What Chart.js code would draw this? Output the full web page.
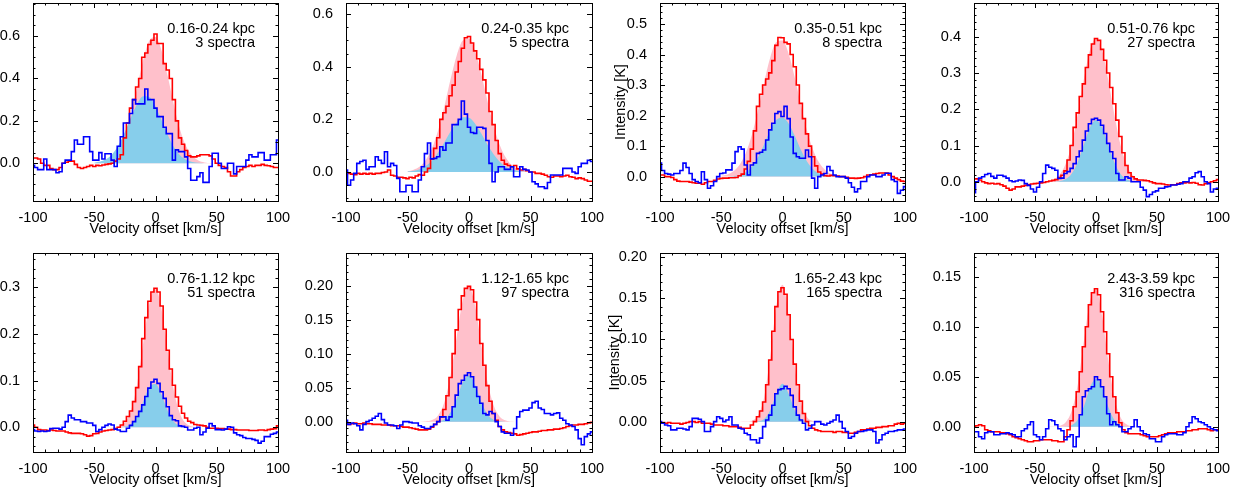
<!DOCTYPE html>
<html><head><meta charset="utf-8">
<script src="https://cdn.jsdelivr.net/npm/chart.js@4.4.0/dist/chart.umd.min.js"></script>
<style>
html,body{margin:0;padding:0;background:#fff;overflow:hidden;width:1247px;height:495px;position:relative;}
canvas{position:absolute;}
</style></head><body>
<script>
// ---------------- DATA ----------------
const velocity = [-100,-97.5,-95,-92.5,-90,-87.5,-85,-82.5,-80,-77.5,-75,-72.5,-70,-67.5,-65,-62.5,-60,-57.5,-55,-52.5,-50,-47.5,-45,-42.5,-40,-37.5,-35,-32.5,-30,-27.5,-25,-22.5,-20,-17.5,-15,-12.5,-10,-7.5,-5,-2.5,0,2.5,5,7.5,10,12.5,15,17.5,20,22.5,25,27.5,30,32.5,35,37.5,40,42.5,45,47.5,50,52.5,55,57.5,60,62.5,65,67.5,70,72.5,75,77.5,80,82.5,85,87.5,90,92.5,95,97.5,100];
const fitVelocity = [-50,-45,-40,-35,-30,-25,-20,-15,-10,-5,0,5,10,15,20,25,30,35,40,45,50];

const red1 = [0.025,0.025,0.02,0.0,-0.01,-0.01,-0.025,-0.03,-0.03,-0.02, 0.0,0.005,0.01,0.01,-0.005,-0.02,-0.025,-0.02,-0.015,-0.01, -0.015,-0.01,-0.012,-0.008,-0.005,-0.003,0.0,0.01,0.02,0.04, 0.12,0.19,0.26,0.30,0.36,0.40,0.50,0.52,0.56,0.58, 0.61,0.565,0.565,0.47,0.44,0.40,0.30,0.20,0.12,0.09, 0.06,0.035,0.03,0.03,0.035,0.04,0.04,0.04,0.035,0.02, 0.0,-0.01,-0.015,-0.02,-0.04,-0.06,-0.06,-0.04,-0.03,-0.02, -0.015,-0.01,-0.015,-0.01,-0.01,-0.005,-0.01,-0.012,-0.015,-0.02, -0.02];
const blue1 = [-0.01,-0.02,-0.03,-0.03,0.02,-0.03,-0.03,-0.03,-0.045,-0.04, 0.0,0.015,0.015,0.055,0.11,0.09,0.09,0.125,0.125,0.055, 0.015,0.015,0.05,0.02,0.045,0.045,0.015,-0.015,0.08,0.125, 0.19,0.19,0.235,0.30,0.28,0.28,0.28,0.35,0.30,0.30, 0.26,0.22,0.22,0.17,0.14,0.14,0.015,0.063,0.055,0.055, 0.03,-0.025,-0.08,-0.08,-0.063,-0.045,-0.09,-0.09,-0.015,0.047, 0.047,0.0,-0.025,-0.025,0.0,0.0,-0.05,-0.015,-0.015,-0.015, 0.015,0.04,0.03,0.03,0.05,0.05,0.015,0.015,0.04,0.04, 0.11];
const red2 = [-0.005,-0.005,-0.008,-0.01,-0.005,-0.008,-0.005,-0.008,-0.005,-0.008, -0.005,-0.005,-0.002,0.0,0.008,-0.012,-0.015,-0.02,-0.02,-0.022, -0.025,-0.02,-0.022,-0.015,-0.01,-0.012,0.0,0.014,0.05,0.09, 0.13,0.20,0.225,0.25,0.29,0.33,0.38,0.42,0.47,0.51, 0.515,0.49,0.46,0.43,0.39,0.35,0.30,0.23,0.18,0.12, 0.07,0.045,0.03,0.025,0.02,0.025,0.012,0.008,0.01,0.005, 0.0,0.0,-0.005,-0.005,-0.008,-0.012,-0.018,-0.02,-0.015,-0.015, -0.018,-0.015,-0.012,-0.018,-0.02,-0.025,-0.022,-0.025,-0.03,-0.035, -0.035];
const blue2 = [0.008,-0.05,-0.03,-0.005,0.033,0.04,0.045,0.01,0.02,0.02, 0.058,0.045,0.033,0.077,0.02,0.033,0.025,-0.024,-0.075,-0.075, -0.05,-0.05,-0.075,-0.075,-0.03,0.02,0.07,0.11,0.05,0.052, 0.058,0.096,0.083,0.11,0.11,0.18,0.18,0.20,0.27,0.22, 0.17,0.15,0.147,0.17,0.17,0.166,0.12,0.033,-0.037,0.0, 0.02,0.02,0.01,0.01,0.02,-0.018,-0.018,0.02,0.01,0.008, 0.0,-0.037,-0.045,-0.056,-0.056,-0.062,-0.04,-0.011,-0.011,-0.011, -0.011,0.014,0.014,0.014,0.0,-0.005,0.02,0.033,0.033,0.045, 0.04];
const red3 = [0.005,0.005,0.0,0.0,-0.003,-0.01,-0.015,-0.016,-0.016,-0.016, -0.018,-0.02,-0.022,-0.022,-0.025,-0.02,-0.016,-0.016,-0.012,-0.008, -0.006,-0.005,-0.005,-0.004,-0.004,-0.003,0.003,0.008,0.025,0.05, 0.09,0.15,0.23,0.27,0.30,0.32,0.34,0.38,0.43,0.456, 0.455,0.44,0.435,0.40,0.36,0.30,0.24,0.19,0.14,0.10, 0.065,0.035,0.015,0.008,0.003,0.002,0.004,0.003,0.002,0.0, 0.0,-0.002,-0.005,-0.005,-0.006,-0.005,-0.004,0.0,0.005,0.006, 0.008,0.01,0.012,0.012,0.012,0.005,0.0,-0.005,-0.01,-0.015, -0.016];
const blue3 = [0.044,0.02,0.01,0.008,0.005,0.01,0.01,0.02,0.044,0.03, 0.01,-0.01,-0.016,-0.02,0.016,-0.01,-0.038,-0.03,-0.016,0.0, 0.01,0.012,0.022,0.022,0.044,0.082,0.098,0.09,0.038,0.005, 0.038,0.045,0.076,0.08,0.087,0.12,0.153,0.175,0.207,0.213, 0.197,0.23,0.19,0.13,0.076,0.065,0.06,0.06,0.087,0.065, -0.005,-0.038,0.0,0.005,0.01,0.033,0.02,0.005,0.0,0.0, 0.0,-0.005,-0.02,-0.035,-0.05,-0.04,-0.016,-0.016,0.0,0.005, 0.005,0.0,0.0,0.005,0.011,0.011,-0.01,-0.016,-0.055,-0.045, -0.033];
const red4 = [0.008,0.008,0.005,0.0,-0.003,-0.005,-0.004,-0.006,-0.005,-0.008, -0.012,-0.018,-0.023,-0.02,-0.014,-0.014,-0.012,-0.01,-0.008,-0.006, -0.005,-0.004,-0.003,-0.002,0.0,0.002,0.004,0.006,0.012,0.018, 0.03,0.06,0.10,0.15,0.19,0.235,0.27,0.315,0.35,0.38, 0.395,0.39,0.365,0.335,0.30,0.26,0.215,0.17,0.125,0.08, 0.045,0.025,0.014,0.008,0.005,0.005,0.004,0.003,0.0,-0.003, -0.005,-0.005,-0.006,-0.008,-0.009,-0.008,-0.008,-0.005,-0.003,-0.003, -0.002,-0.003,-0.002,-0.004,-0.008,-0.009,-0.005,-0.003,0.0,0.003, 0.006];
const blue4 = [-0.03,0.0,0.01,0.014,0.02,0.023,0.015,0.01,0.018,0.018, 0.015,0.01,0.003,0.0,0.002,0.005,0.004,-0.005,-0.01,-0.02, -0.028,-0.015,0.0,0.023,0.046,0.04,0.037,0.032,0.009,0.01, 0.023,0.028,0.037,0.05,0.069,0.085,0.115,0.14,0.16,0.172, 0.175,0.17,0.156,0.133,0.106,0.083,0.064,0.023,0.005,0.005, 0.014,0.01,0.0,0.0,0.0,-0.015,-0.023,-0.041,-0.035,-0.028, -0.025,-0.018,-0.018,-0.014,-0.013,-0.009,-0.009,-0.007,-0.005,0.0, 0.0,0.01,0.014,0.025,0.028,0.014,0.0,-0.005,-0.028,-0.02, -0.018];
const red5 = [0.005,0.0,-0.005,-0.006,-0.006,-0.007,-0.006,-0.007,-0.008,-0.008, -0.008,-0.01,-0.012,-0.013,-0.013,-0.013,-0.014,-0.016,-0.019,-0.018, -0.014,-0.013,-0.01,-0.008,-0.007,-0.006,-0.005,-0.003,0.0,0.005, 0.013,0.023,0.035,0.055,0.085,0.13,0.19,0.235,0.27,0.29, 0.298,0.29,0.26,0.21,0.165,0.125,0.09,0.065,0.045,0.03, 0.02,0.013,0.01,0.006,0.005,0.004,0.003,0.0,-0.002,-0.002, -0.002,-0.003,-0.003,-0.004,-0.004,-0.005,-0.005,-0.006,-0.006,-0.006, -0.006,-0.007,-0.007,-0.007,-0.006,-0.006,-0.007,-0.005,-0.004,-0.003, 0.003];
const blue5 = [-0.005,-0.008,-0.009,-0.008,-0.009,-0.008,-0.003,-0.002,-0.002,-0.004, 0.0,0.012,0.026,0.02,0.016,0.016,0.012,0.012,0.009,0.009, 0.004,-0.009,-0.005,0.0,0.004,0.007,0.005,-0.004,-0.006,-0.009, -0.009,-0.002,0.004,0.012,0.023,0.034,0.048,0.066,0.084,0.097, 0.103,0.094,0.076,0.062,0.044,0.025,0.016,0.014,0.003,0.002, 0.0,-0.006,-0.006,-0.002,0.0,-0.016,-0.01,-0.002,0.008,0.003, -0.005,-0.005,-0.006,-0.004,0.001,0.0,-0.012,-0.016,-0.018,-0.022, -0.024,-0.024,-0.026,-0.028,-0.034,-0.03,-0.02,-0.02,-0.015,-0.013, -0.01];
const red6 = [-0.003,-0.004,-0.003,-0.002,-0.003,-0.003,-0.002,-0.003,-0.003,-0.004, -0.004,-0.004,-0.005,-0.005,-0.005,-0.006,-0.006,-0.006,-0.007,-0.008, -0.008,-0.009,-0.01,-0.011,-0.012,-0.012,-0.012,-0.011,-0.008,-0.004, 0.0,0.007,0.018,0.038,0.065,0.1,0.135,0.165,0.185,0.196, 0.199,0.194,0.176,0.15,0.115,0.083,0.053,0.03,0.012,0.002, -0.007,-0.012,-0.015,-0.016,-0.017,-0.018,-0.02,-0.019,-0.018,-0.017, -0.016,-0.015,-0.015,-0.014,-0.013,-0.013,-0.012,-0.012,-0.011,-0.011, -0.01,-0.009,-0.007,-0.006,-0.005,-0.005,-0.004,-0.004,-0.003,-0.002, -0.001];
const blue6 = [0.002,-0.004,-0.002,-0.003,-0.006,-0.012,-0.004,0.0,0.002,0.005, 0.008,0.012,0.003,-0.002,-0.005,-0.005,-0.006,-0.01,-0.005,0.0, 0.0,-0.001,-0.002,-0.002,-0.006,-0.008,-0.01,-0.01,-0.007,-0.004, 0.0,0.007,0.007,0.002,0.007,0.022,0.039,0.056,0.061,0.068, 0.072,0.066,0.051,0.037,0.027,0.012,0.01,0.015,0.012,0.0, -0.007,-0.015,-0.017,-0.017,-0.02,-0.01,0.007,0.015,0.017,0.017, 0.02,0.028,0.03,0.02,0.018,0.012,0.012,0.01,0.012,0.013, 0.005,0.002,-0.003,-0.005,-0.007,-0.012,-0.025,-0.034,-0.022,-0.018, -0.015];
const red7 = [-0.001,-0.001,-0.002,-0.001,-0.002,-0.002,-0.002,-0.003,-0.002,-0.001, 0.0,0.0,-0.001,0.0,-0.002,-0.002,-0.002,-0.003,-0.004,-0.004, -0.004,-0.005,-0.005,-0.006,-0.006,-0.006,-0.007,-0.008,-0.008,-0.008, -0.004,0.0,0.006,0.013,0.024,0.045,0.075,0.11,0.14,0.158, 0.163,0.155,0.13,0.1,0.07,0.045,0.025,0.01,0.0,-0.005, -0.008,-0.01,-0.011,-0.012,-0.012,-0.012,-0.012,-0.013,-0.012,-0.012, -0.013,-0.013,-0.014,-0.014,-0.013,-0.012,-0.01,-0.01,-0.009,-0.008, -0.008,-0.007,-0.007,-0.006,-0.006,-0.005,-0.005,-0.003,-0.002,-0.003, -0.002];
const blue7 = [0.0,-0.002,-0.004,-0.005,-0.01,-0.01,-0.008,-0.008,-0.009,-0.01, -0.006,0.004,0.004,0.003,0.0,-0.012,-0.012,-0.006,0.0,0.006, 0.004,0.0,0.002,0.006,-0.004,-0.004,-0.008,-0.009,-0.014,-0.016, -0.022,-0.022,-0.026,-0.02,-0.006,0.002,0.008,0.02,0.034,0.039, 0.04,0.043,0.04,0.032,0.018,0.008,0.002,-0.002,-0.01,-0.008, -0.004,0.0,0.0,-0.003,-0.004,-0.002,0.0,0.002,0.008,0.0, -0.008,-0.012,-0.02,-0.018,-0.014,-0.012,-0.012,-0.011,-0.01,-0.01, -0.012,-0.026,-0.022,-0.016,-0.014,-0.012,-0.012,-0.011,-0.01,-0.01, -0.009];
const red8 = [0.0,0.001,0.002,0.001,-0.003,-0.004,-0.005,-0.005,-0.005,-0.006, -0.006,-0.007,-0.008,-0.01,-0.011,-0.012,-0.013,-0.014,-0.015,-0.015, -0.014,-0.014,-0.013,-0.013,-0.013,-0.013,-0.014,-0.014,-0.015,-0.015, -0.01,-0.003,0.006,0.02,0.035,0.055,0.08,0.1,0.122,0.134, 0.138,0.132,0.115,0.095,0.073,0.05,0.03,0.014,0.004,-0.003, -0.006,-0.007,-0.007,-0.007,-0.007,-0.008,-0.009,-0.01,-0.01,-0.01, -0.01,-0.009,-0.008,-0.007,-0.006,-0.006,-0.006,-0.005,-0.005,-0.005, -0.004,-0.004,-0.003,-0.003,-0.002,-0.002,-0.002,-0.003,-0.004,-0.003, -0.003];
const blue8 = [-0.005,-0.005,-0.01,-0.012,-0.006,-0.005,-0.005,-0.008,-0.008,-0.007, -0.007,-0.006,-0.007,-0.008,-0.01,-0.01,-0.004,-0.002,0.002,0.005, -0.008,-0.01,-0.013,-0.01,-0.002,0.007,0.006,0.002,-0.002,-0.004, -0.013,-0.01,-0.008,-0.02,-0.01,0.012,0.03,0.036,0.038,0.04, 0.05,0.047,0.04,0.03,0.013,0.002,0.005,0.002,0.0,-0.005, -0.005,-0.002,0.0,0.007,0.0,-0.004,-0.007,-0.008,-0.012,-0.012, -0.015,-0.015,-0.01,-0.008,-0.007,-0.007,-0.007,-0.008,-0.008,-0.006, 0.0,0.004,0.01,0.008,0.005,0.004,0.002,0.0,-0.002,-0.003, -0.004];

// fitted profiles (filled areas), sampled on fitVelocity
const pinkFit1 = [0.0005,0.003,0.0085,0.024,0.058,0.123,0.225,0.356,0.488,0.579,0.596,0.531,0.41,0.275,0.159,0.08,0.035,0.013,0.004,0.001,0];
const blueFit1 = [0.003,0.008,0.02,0.045,0.087,0.147,0.217,0.28,0.316,0.312,0.269,0.203,0.133,0.077,0.038,0.017,0.0065,0.002,0.0005,0,0];
const pinkFit2 = [0.003,0.009,0.021,0.047,0.091,0.16,0.25,0.352,0.443,0.50,0.506,0.458,0.372,0.27,0.176,0.103,0.054,0.025,0.011,0.004,0.001];
const blueFit2 = [0.002,0.005,0.011,0.024,0.044,0.075,0.113,0.154,0.189,0.208,0.206,0.183,0.146,0.105,0.068,0.039,0.02,0.0096,0.004,0.001,0];
const pinkFit3 = [0.0025,0.007,0.0175,0.039,0.077,0.137,0.217,0.308,0.39,0.441,0.446,0.403,0.325,0.235,0.151,0.087,0.045,0.021,0.0085,0.003,0.001];
const blueFit3 = [0,0.0005,0.0017,0.0054,0.0143,0.0326,0.0636,0.106,0.152,0.186,0.194,0.174,0.134,0.088,0.0496,0.024,0.0099,0.0035,0.001,0,0];
const pinkFit4 = [0,0.0005,0.0019,0.0065,0.019,0.048,0.103,0.186,0.282,0.363,0.395,0.363,0.282,0.186,0.103,0.048,0.019,0.0065,0.0019,0.0005,0];
const blueFit4 = [0,0,0,0.0003,0.0017,0.007,0.022,0.054,0.102,0.15,0.17,0.15,0.102,0.054,0.022,0.007,0.0017,0.0003,0,0,0];
const pinkFit5 = [0,0,0,0.0004,0.0024,0.0107,0.036,0.093,0.181,0.266,0.298,0.252,0.162,0.079,0.029,0.008,0.0017,0.0003,0,0,0];
const blueFit5 = [0,0,0,0,0.0002,0.0014,0.007,0.0237,0.055,0.0866,0.093,0.069,0.035,0.012,0.0028,0.0004,0,0,0,0,0];
const pinkFit6 = [0,0,0,0.0005,0.0024,0.0095,0.029,0.068,0.125,0.179,0.198,0.17,0.113,0.059,0.024,0.0074,0.0018,0.0003,0,0,0];
const blueFit6 = [0,0,0,0,0,0.0007,0.0037,0.0137,0.034,0.058,0.068,0.054,0.029,0.011,0.0028,0.0005,0,0,0,0,0];
const pinkFit7 = [0,0,0,0,0.0001,0.0012,0.0074,0.0297,0.0795,0.1414,0.1667,0.13,0.0675,0.0232,0.0053,0.0008,0.0001,0,0,0,0];
const blueFit7 = [0,0,0,0,0,0,0.0004,0.0032,0.014,0.034,0.046,0.034,0.014,0.0032,0.0004,0,0,0,0,0,0];
const pinkFit8 = [0,0,0,0.0001,0.0009,0.0043,0.0157,0.042,0.085,0.125,0.137,0.111,0.067,0.03,0.0097,0.0024,0.0004,0,0,0,0];
const blueFit8 = [0,0,0,0,0,0.0002,0.0015,0.0069,0.02,0.039,0.048,0.039,0.02,0.0069,0.0015,0.0002,0,0,0,0,0];

const distanceLabels = ["0.16-0.24 kpc","0.24-0.35 kpc","0.35-0.51 kpc","0.51-0.76 kpc","0.76-1.12 kpc","1.12-1.65 kpc","1.65-2.43 kpc","2.43-3.59 kpc"];
const spectraLabels = ["3 spectra","5 spectra","8 spectra","27 spectra","51 spectra","97 spectra","165 spectra","316 spectra"];
const yMin = [-0.178,-0.110,-0.080,-0.053,-0.053,-0.0446,-0.0369,-0.0253];
const yMax = [0.756,0.642,0.569,0.493,0.3735,0.248,0.2052,0.1737];
const yMajor = [0.2,0.2,0.1,0.1,0.1,0.05,0.05,0.05];
const yMinor = [0.05,0.05,0.02,0.02,0.02,0.01,0.01,0.01];
const yDecimals = [1,1,1,1,1,2,2,2];
const yTitleShown = [false,false,true,false,false,false,true,false];
const xTickLabels = [-100,-50,0,50,100];

const redSeries = [red1,red2,red3,red4,red5,red6,red7,red8];
const blueSeries = [blue1,blue2,blue3,blue4,blue5,blue6,blue7,blue8];
const pinkFits = [pinkFit1,pinkFit2,pinkFit3,pinkFit4,pinkFit5,pinkFit6,pinkFit7,pinkFit8];
const blueFits = [blueFit1,blueFit2,blueFit3,blueFit4,blueFit5,blueFit6,blueFit7,blueFit8];

// ---------------- LAYOUT ----------------
const boxes = [
  {L:33,R:278,T:3,B:201},{L:346,R:592,T:3,B:201},{L:660,R:905,T:3,B:201},{L:974,R:1218,T:3,B:201},
  {L:33,R:278,T:253,B:452},{L:346,R:592,T:253,B:452},{L:660,R:905,T:253,B:452},{L:974,R:1218,T:253,B:452}
];
const yTitlePad = [0,0,4,0,0,0,-2,0];
const AXW = 52, AXH = 42, PADT = 20, PADR = 20;
const FS = 14.5;
const FONT = '"Liberation Sans", Arial, Helvetica, sans-serif';
Chart.defaults.font.family = FONT;
Chart.defaults.font.size = FS;
Chart.defaults.color = '#000';

const framePlugin = {
  id: 'frame',
  afterDatasetsDraw(chart, args, o) {
    const {ctx, chartArea: a} = chart;
    const x = chart.scales.x, y = chart.scales.y;
    ctx.save();
    ctx.strokeStyle = '#000';
    ctx.lineWidth = 1;
    ctx.beginPath();
    for (let k = 0; ; k++) {
      const v = -100 + k * 10;
      if (v > 100) break;
      const px = Math.round(x.getPixelForValue(v)) + 0.5;
      const len = (v % 50 === 0) ? 5 : 2.5;
      ctx.moveTo(px, a.bottom); ctx.lineTo(px, a.bottom - len);
      ctx.moveTo(px, a.top); ctx.lineTo(px, a.top + len);
    }
    const start = Math.ceil(y.min / o.minor - 1e-6);
    for (let k = start; ; k++) {
      const v = k * o.minor;
      if (v > y.max + 1e-9) break;
      const r = v / o.major;
      const major = Math.abs(r - Math.round(r)) < 1e-6;
      const len = major ? 5 : 2.5;
      const py = Math.round(y.getPixelForValue(v)) + 0.5;
      ctx.moveTo(a.left, py); ctx.lineTo(a.left + len, py);
      ctx.moveTo(a.right, py); ctx.lineTo(a.right - len, py);
    }
    ctx.stroke();
    ctx.strokeRect(Math.round(a.left) + 0.5, Math.round(a.top) + 0.5, Math.round(a.right - a.left), Math.round(a.bottom - a.top));
    ctx.fillStyle = '#000';
    ctx.font = FS + 'px ' + FONT;
    ctx.textAlign = 'right';
    ctx.textBaseline = 'alphabetic';
    ctx.fillText(o.line1, a.right - 23, a.top + 29.5);
    ctx.fillText(o.line2, a.right - 23, a.top + 44);
    ctx.restore();
  }
};

boxes.forEach((b, i) => {
  const cv = document.createElement('canvas');
  const w = (b.R - b.L) + AXW + PADR;
  const h = (b.B - b.T) + PADT + AXH;
  cv.width = w; cv.height = h;
  cv.style.width = w + 'px'; cv.style.height = h + 'px';
  cv.style.left = (b.L - AXW) + 'px';
  cv.style.top = (b.T - PADT) + 'px';
  document.body.appendChild(cv);

  const pts = (xs, ys) => xs.map((v, k) => ({x: v, y: ys[k]}));
  new Chart(cv, {
    type: 'line',
    data: {
      datasets: [
        {label:'blue', data: pts(velocity, blueSeries[i]), borderColor:'#0000ff', borderWidth:1.6, stepped:'middle', pointRadius:0, fill:false, order:1},
        {label:'red', data: pts(velocity, redSeries[i]), borderColor:'#ff0000', borderWidth:1.6, stepped:'middle', pointRadius:0, fill:false, order:2},
        {label:'blueFit', data: pts(fitVelocity, blueFits[i]), borderWidth:0, borderColor:'rgba(0,0,0,0)', backgroundColor:'#87ceeb', fill:'origin', pointRadius:0, cubicInterpolationMode:'monotone', order:3},
        {label:'pinkFit', data: pts(fitVelocity, pinkFits[i]), borderWidth:0, borderColor:'rgba(0,0,0,0)', backgroundColor:'#ffc0cb', fill:'origin', pointRadius:0, cubicInterpolationMode:'monotone', order:4}
      ]
    },
    options: {
      responsive: false,
      animation: false,
      devicePixelRatio: 1,
      events: [],
      clip: 0,
      layout: {padding: {left:0, top:PADT, right:PADR, bottom:0}},
      plugins: {
        legend: {display:false},
        tooltip: {enabled:false},
        frame: {line1: distanceLabels[i], line2: spectraLabels[i], major: yMajor[i], minor: yMinor[i]}
      },
      scales: {
        x: {
          type:'linear', min:-100, max:100,
          afterFit: s => { s.height = AXH; },
          grid: {display:false},
          border: {display:false},
          ticks: {stepSize:50, includeBounds:false, autoSkip:false, maxRotation:0, padding:0, color:'#000', font:{size:FS},
                  callback: v => xTickLabels.includes(v) ? String(v) : ''},
          title: {display:true, text:'Velocity offset [km/s]', color:'#000', font:{size:FS}, padding:{top:0, bottom:5.5}}
        },
        y: {
          type:'linear', min:yMin[i], max:yMax[i],
          afterFit: s => { s.width = AXW; },
          grid: {display:false},
          border: {display:false},
          ticks: {stepSize:yMajor[i], includeBounds:false, autoSkip:false, padding:5, color:'#000', font:{size:FS},
                  callback: v => Number(v).toFixed(yDecimals[i])},
          title: {display:yTitleShown[i], text:'Intensity [K]', color:'#000', font:{size:FS}, padding:{top:yTitlePad[i], bottom:0}}
        }
      }
    },
    plugins: [framePlugin]
  });
});
</script>
</body></html>
